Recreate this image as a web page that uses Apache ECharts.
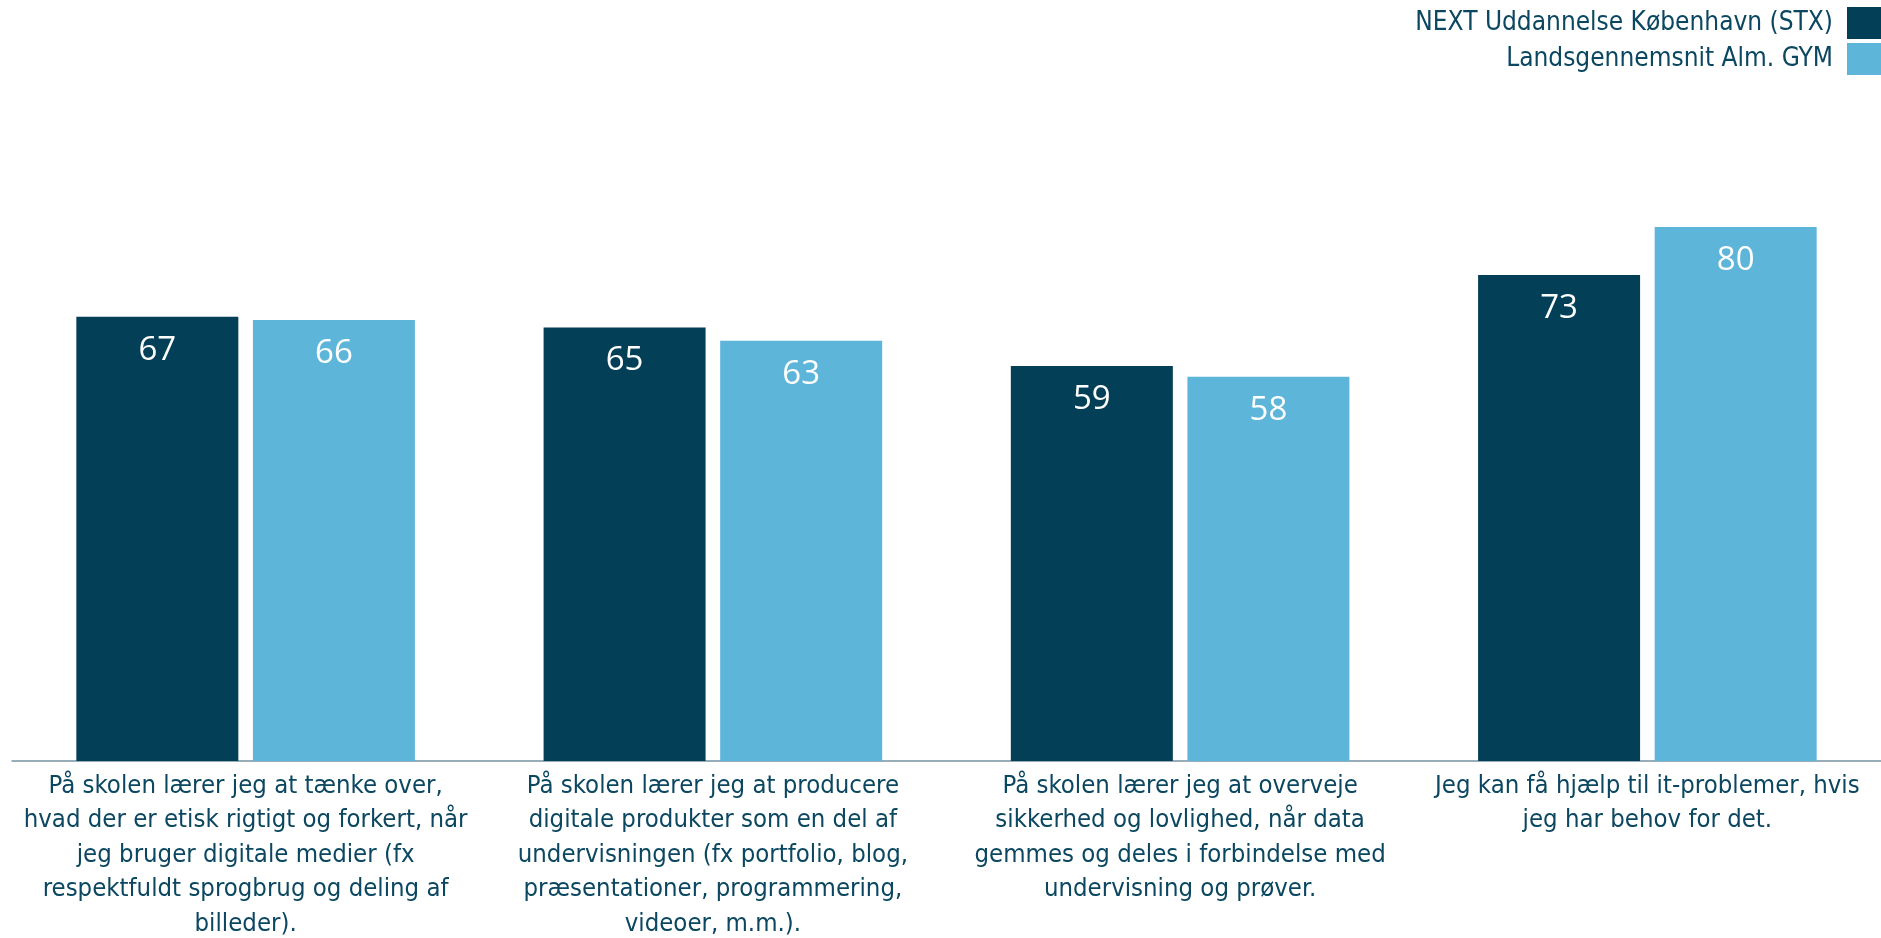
<!DOCTYPE html>
<html>
<head>
<meta charset="utf-8">
<script src="https://cdn.jsdelivr.net/npm/echarts@6/dist/echarts.min.js"></script>
<style>
  html, body { margin: 0; padding: 0; background: #fff; }
  #chart { width: 1881px; height: 938px; }
</style>
</head>
<body>
<div id="chart"></div>
<script>
// categories (line breaks as in the picture)
var categories = [
  'På skolen lærer jeg at tænke over,\nhvad der er etisk rigtigt og forkert, når\njeg bruger digitale medier (fx\nrespektfuldt sprogbrug og deling af\nbilleder).',
  'På skolen lærer jeg at producere\ndigitale produkter som en del af\nundervisningen (fx portfolio, blog,\npræsentationer, programmering,\nvideoer, m.m.).',
  'På skolen lærer jeg at overveje\nsikkerhed og lovlighed, når data\ngemmes og deles i forbindelse med\nundervisning og prøver.',
  'Jeg kan få hjælp til it-problemer, hvis\njeg har behov for det.'
]
var seriesNames = ['NEXT Uddannelse København (STX)', 'Landsgennemsnit Alm. GYM']
// values (labels are rounded)
var nextValues = [66.8, 65.2, 59.4, 73.1]
var landsValues = [66.3, 63.2, 57.8, 80.3]

var dark = '#033F57'
var light = '#5EB5DA'
var textColor = '#0B4760'

var chart = echarts.init(document.getElementById('chart'))

function barSeries(name, data, color) {
  return {
    name: name,
    type: 'bar',
    data: data,
    barWidth: 162,
    barGap: '9%',
    itemStyle: { color: color },
    label: {
      show: true,
      position: 'insideTop',
      distance: 17,
      color: '#fff',
      fontFamily: 'Open Sans',
      fontSize: 33,
      formatter: function (p) { return Math.round(p.value) }
    }
  }
}

function legendFor(name, top) {
  return {
    data: [name],
    right: 0,
    top: top,
    padding: 0,
    align: 'right',
    icon: 'rect',
    itemWidth: 34,
    itemHeight: 32,
    selectedMode: false,
    textStyle: {
      color: textColor,
      fontFamily: 'DejaVu Sans Condensed',
      fontSize: 26,
      padding: [0, 9, 0, 0]
    }
  }
}

chart.setOption({
  animation: false,
  legend: [legendFor(seriesNames[0], 7), legendFor(seriesNames[1], 43)],
  grid: {
    left: 12,
    right: 0,
    top: 96,
    bottom: 177,
    outerBoundsMode: 'none',
    containLabel: false
  },
  xAxis: {
    type: 'category',
    data: categories,
    axisLine: { lineStyle: { color: '#7892A2', width: 1.5 } },
    axisTick: { show: false },
    axisLabel: {
      interval: 0,
      margin: 8,
      color: textColor,
      fontFamily: 'DejaVu Sans Condensed',
      fontSize: 25.5,
      lineHeight: 34.5,
      align: 'center'
    }
  },
  yAxis: {
    type: 'value',
    min: 0,
    max: 100,
    show: false
  },
  series: [
    barSeries(seriesNames[0], nextValues, dark),
    barSeries(seriesNames[1], landsValues, light)
  ]
})
</script>
</body>
</html>
